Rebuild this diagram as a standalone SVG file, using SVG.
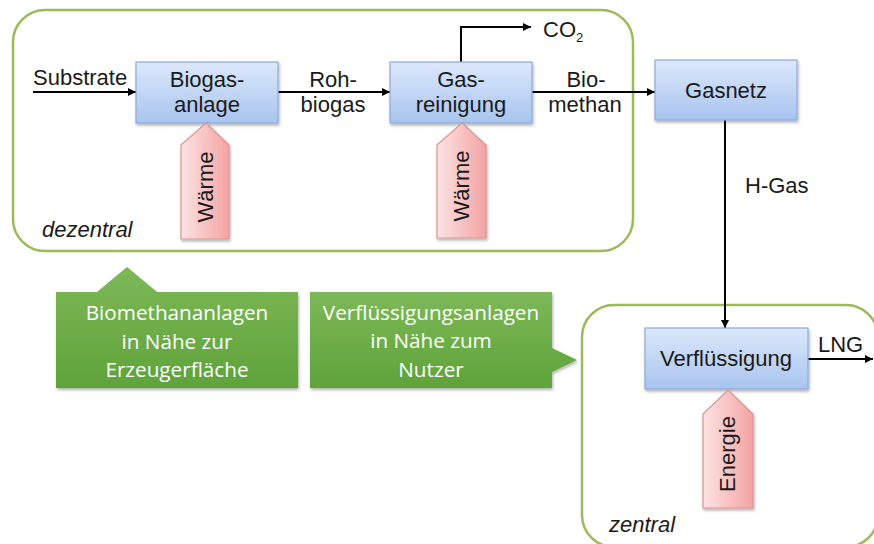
<svg xmlns="http://www.w3.org/2000/svg" width="874" height="544" viewBox="0 0 874 544">
<defs>
<linearGradient id="gBlue" x1="0" y1="0" x2="0" y2="1">
<stop offset="0" stop-color="#dce8fb"/>
<stop offset="1" stop-color="#a8c4ef"/>
</linearGradient>
<linearGradient id="gRed" x1="0" y1="0" x2="1" y2="0">
<stop offset="0" stop-color="#fde3e3"/>
<stop offset="1" stop-color="#f4a3a3"/>
</linearGradient>
<linearGradient id="gGreen" x1="0" y1="0" x2="0" y2="1">
<stop offset="0" stop-color="#7db858"/>
<stop offset="1" stop-color="#5fa33a"/>
</linearGradient>
<filter id="sh" x="-10%" y="-10%" width="130%" height="140%">
<feDropShadow dx="1" dy="2" stdDeviation="1.5" flood-color="#000" flood-opacity="0.3"/>
</filter>
<marker id="ah" viewBox="0 0 10 10" refX="10" refY="5" markerWidth="8" markerHeight="8" markerUnits="userSpaceOnUse" orient="auto">
<path d="M0,0 L10,5 L0,10 Z" fill="#000"/>
</marker>
</defs>
<style>
.cont{fill:none;stroke:#9bbb59;stroke-width:2.5}
.box{fill:url(#gBlue);stroke:#8eaadb;stroke-width:1.2}
.heat{fill:url(#gRed);stroke:#d99694;stroke-width:1.2}
.call{fill:url(#gGreen)}
.t{font-family:"Liberation Sans",Arial,sans-serif;font-size:22px;fill:#1a1a1a}
.tc{text-anchor:middle}
.it{font-style:italic}
.ct{font-family:"Open Sans","Noto Sans",sans-serif;font-size:20.7px;fill:#fff;text-anchor:middle}
.ln{fill:none;stroke:#000;stroke-width:2}
</style>

<g id="dezentral">
<rect class="cont" x="13" y="10" width="620" height="241" rx="32"/>
<text class="t it" x="42" y="237">dezentral</text>
</g>
<g id="zentral">
<rect class="cont" x="582" y="305" width="296" height="242" rx="32"/>
<text class="t it" x="609" y="532">zentral</text>
</g>

<g id="callout1">
<path class="call" filter="url(#sh)" d="M56,292 L97,292 L127,267 L157,292 L298,292 L298,388 L56,388 Z"/>
<text class="ct" x="177" y="320">Biomethananlagen</text>
<text class="ct" x="177" y="349">in Nähe zur</text>
<text class="ct" x="177" y="377">Erzeugerfläche</text>
</g>
<g id="callout2">
<path class="call" filter="url(#sh)" d="M310,292 L552,292 L552,348 L577,360 L552,372 L552,388 L310,388 Z"/>
<text class="ct" x="431" y="320">Verflüssigungsanlagen</text>
<text class="ct" x="431" y="348">in Nähe zum</text>
<text class="ct" x="431" y="377">Nutzer</text>
</g>

<g id="connectors">
<line class="ln" x1="33" y1="92" x2="136" y2="92" marker-end="url(#ah)"/>
<line class="ln" x1="278" y1="92" x2="390" y2="92" marker-end="url(#ah)"/>
<polyline class="ln" points="461,62 461,27 531,27" marker-end="url(#ah)"/>
<line class="ln" x1="532" y1="92" x2="655" y2="92" marker-end="url(#ah)"/>
<line class="ln" x1="725" y1="120" x2="725" y2="328" marker-end="url(#ah)"/>
<line class="ln" x1="808" y1="359" x2="873" y2="359" marker-end="url(#ah)"/>
<text class="t" x="33" y="85">Substrate</text>
<text class="t tc" x="333" y="87">Roh-</text>
<text class="t tc" x="333" y="112">biogas</text>
<text class="t tc" x="586" y="87">Bio-</text>
<text class="t tc" x="585" y="112">methan</text>
<text class="t" x="543" y="37" font-size="20">CO<tspan font-size="13" dy="5">2</tspan></text>
<text class="t" x="745" y="193">H-Gas</text>
<text class="t" x="818" y="352">LNG</text>
</g>

<g id="biogasanlage">
<rect class="box" filter="url(#sh)" x="136" y="62" width="142" height="61"/>
<text class="t tc" x="207" y="87">Biogas-</text>
<text class="t tc" x="207" y="112">anlage</text>
</g>
<g id="gasreinigung">
<rect class="box" filter="url(#sh)" x="390" y="62" width="142" height="61"/>
<text class="t tc" x="461" y="87">Gas-</text>
<text class="t tc" x="461" y="112">reinigung</text>
</g>
<g id="gasnetz">
<rect class="box" filter="url(#sh)" x="655" y="60" width="142" height="60"/>
<text class="t tc" x="726" y="98">Gasnetz</text>
</g>
<g id="verfluessigung">
<rect class="box" filter="url(#sh)" x="645" y="328" width="163" height="61"/>
<text class="t tc" x="726" y="366">Verflüssigung</text>
</g>

<g id="waerme1">
<path class="heat" filter="url(#sh)" d="M181,145 L206,123 L229,145 L229,239 L181,239 Z"/>
<text class="t tc" transform="translate(213,187) rotate(-90)">Wärme</text>
</g>
<g id="waerme2">
<path class="heat" filter="url(#sh)" d="M437,145 L462,123 L486,145 L486,238 L437,238 Z"/>
<text class="t tc" transform="translate(469,186) rotate(-90)">Wärme</text>
</g>
<g id="energie">
<path class="heat" filter="url(#sh)" d="M703,414 L728,390 L753,414 L753,508 L703,508 Z"/>
<text class="t tc" transform="translate(735,454) rotate(-90)">Energie</text>
</g>
</svg>
